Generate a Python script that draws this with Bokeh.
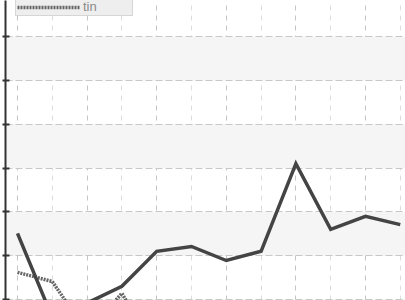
from bokeh.plotting import figure
from bokeh.models import FixedTicker, Legend, LegendItem, Range1d
from bokeh.embed import file_html
from bokeh.resources import INLINE

# data (y in arbitrary units, gridline step = 10)
x_main = [0, 1, 2, 3, 4, 5, 6, 7, 8, 9, 10, 11]
main_vals = [25.1, 5.9, 9.2, 13.0, 21.0, 22.1, 18.9, 21.0, 41.0, 26.0, 29.0, 27.1]
x_tin = [0, 1, 2, 3, 4]
tin_vals = [16.2, 14.1, 2.5, 11.4, -2.0]
y_ticks = [10, 20, 30, 40, 50, 60, 70]
band_ticks = [0, 10, 20, 30, 40, 50, 60, 70]
x_major = [0, 2, 4, 6, 8, 10]
x_minor = [1, 3, 5, 7, 9, 11]

p = figure(width=405, height=300, output_backend="svg", toolbar_location=None,
           x_range=Range1d(-0.345, 11.15), y_range=Range1d(9.77, 78.26),
           x_axis_location=None, y_axis_location="left",
           min_border_left=5, min_border_right=0, min_border_top=0, min_border_bottom=0)
p.background_fill_color = "white"
p.border_fill_color = "white"
p.outline_line_color = None

# y axis (no labels visible)
ax = p.yaxis[0]
ax.ticker = FixedTicker(ticks=y_ticks)
ax.major_label_overrides = {t: "" for t in y_ticks}
ax.major_label_standoff = 0
ax.major_tick_in = 4
ax.major_tick_out = 3
ax.minor_tick_in = 0
ax.minor_tick_out = 0
ax.axis_line_color = "#333333"
ax.axis_line_width = 2
ax.major_tick_line_color = "#333333"
ax.major_tick_line_width = 2

# horizontal grid with alternating bands
yg = p.ygrid[0]
yg.ticker = FixedTicker(ticks=band_ticks)
yg.grid_line_color = "#c8c8c8"
yg.grid_line_dash = "7 3"
yg.grid_line_width = 1
yg.band_fill_color = "#f5f5f5"
yg.band_fill_alpha = 1

# vertical grid (major + minor)
xg = p.xgrid[0]
xg.ticker = FixedTicker(ticks=x_major, minor_ticks=x_minor)
xg.grid_line_color = "#c4c4c4"
xg.grid_line_dash = "5 5"
xg.grid_line_width = 1
xg.minor_grid_line_color = "#dddddd"
xg.minor_grid_line_dash = "5 5"
xg.minor_grid_line_width = 1

r_tin = p.line(x_tin, tin_vals, line_color="#666666", line_width=3.5, line_dash="2 1")
r_main = p.line(x_main, main_vals, line_color="#444444", line_width=3.5, line_join="miter")

legend = Legend(items=[LegendItem(label="tin", renderers=[r_tin])],
                location=(10, 284), margin=0, padding=1, spacing=0,
                glyph_width=63, glyph_height=12, label_standoff=3,
                label_width=48, label_height=14,
                label_text_font="Liberation Sans", label_text_font_size="13px",
                label_text_color="#8a8a8a",
                background_fill_color="#eeeeee", background_fill_alpha=1,
                border_line_color="#bdbdbd", border_line_width=1)
p.add_layout(legend)

open("out.html", "w").write(file_html(p, INLINE))
